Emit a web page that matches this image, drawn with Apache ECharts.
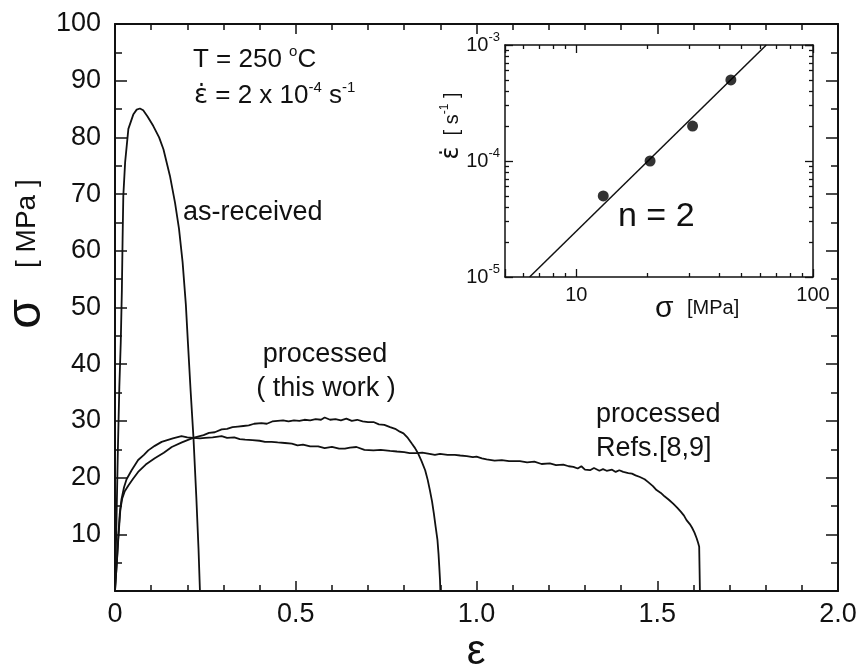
<!DOCTYPE html>
<html>
<head>
<meta charset="utf-8">
<script src="https://cdn.jsdelivr.net/npm/echarts@6/dist/echarts.min.js"></script>
<style>
  html, body { margin: 0; padding: 0; background: #fff; }
  #main { width: 862px; height: 671px; }
</style>
</head>
<body>
<div id="main"></div>
<script>
// 主图: 应变 ε - 应力 σ [MPa], 每条曲线是 [strain, stress]
var asReceivedCurve = [[0,0],[0.004,12],[0.008,25],[0.012,36],[0.016,44],[0.019,53],[0.021,62],[0.023,69.7],[0.028,75.6],
  [0.037,81.5],[0.051,84.1],[0.06,84.9],[0.069,85.1],[0.078,84.8],[0.09,83.7],[0.106,82],[0.122,80],[0.134,77.9],
  [0.152,73.2],[0.166,68.5],[0.177,63.9],[0.187,58],[0.196,50.5],[0.202,43.5],[0.209,35.5],[0.217,27.1],[0.225,16.5],
  [0.231,7.5],[0.235,0]];

var thisWorkCurve = [[0,0],[0.003,3],[0.006,6],[0.01,10],[0.015,14.5],[0.02,16.3],[0.027,17.6],[0.037,18.6],[0.05,19.8],
  [0.064,21],[0.085,22.3],[0.11,23.4],[0.135,24.4],[0.157,25.4],[0.185,26.2],[0.216,27],[0.245,27.5],[0.26,27.9],
  [0.276,28],[0.295,28.5],[0.31,28.6],[0.325,28.9],[0.34,29],[0.355,29.1],[0.37,29.2],[0.385,29.5],[0.405,29.6],
  [0.42,29.5],[0.435,29.9],[0.45,30],[0.465,30.1],[0.48,29.9],[0.495,30.1],[0.51,30],[0.524,30.2],[0.54,30.1],
  [0.555,30.3],[0.57,30.2],[0.58,30.6],[0.595,30.2],[0.61,30.3],[0.625,30.1],[0.64,30.4],[0.655,30],[0.67,30.2],
  [0.685,29.9],[0.7,29.8],[0.715,29.8],[0.73,29.4],[0.745,29.3],[0.761,28.9],[0.775,28.6],[0.788,28.1],[0.798,27.8],
  [0.81,27],[0.821,26],[0.83,25.2],[0.839,24.2],[0.848,22.9],[0.858,21.3],[0.865,19.6],[0.871,17.8],[0.877,15.8],
  [0.882,13.7],[0.887,11.3],[0.892,9],[0.895,6.5],[0.897,4.3],[0.899,2],[0.9,0]];

var refsCurve = [[0,0],[0.003,3],[0.006,6],[0.009,9.5],[0.013,13.5],[0.018,16.2],[0.025,18.3],[0.032,19.7],[0.046,21.3],
  [0.064,23.1],[0.08,24],[0.092,24.8],[0.11,25.6],[0.129,26.3],[0.16,26.9],[0.184,27.3],[0.2,27.1],[0.216,27],
  [0.235,26.9],[0.249,27],[0.27,27.1],[0.295,27.3],[0.31,27],[0.33,27.1],[0.345,26.8],[0.36,26.7],[0.38,26.6],
  [0.4,26.5],[0.415,26.3],[0.433,26.3],[0.45,26.2],[0.47,26.1],[0.489,26],[0.505,25.7],[0.52,25.8],[0.54,25.5],
  [0.562,25.5],[0.58,25.2],[0.6,25.4],[0.62,25.1],[0.636,25.1],[0.65,25.3],[0.668,25.4],[0.69,24.9],[0.715,24.8],
  [0.735,24.9],[0.761,24.7],[0.78,24.6],[0.8,24.5],[0.815,24.3],[0.834,24.3],[0.85,24.4],[0.87,24.2],[0.885,24],
  [0.899,24.2],[0.92,24],[0.94,24],[0.955,23.9],[0.973,23.8],[0.99,23.6],[1.0,23.7],[1.015,23.4],[1.028,23.2],
  [1.05,23],[1.07,23.1],[1.09,22.9],[1.12,22.9],[1.14,22.7],[1.16,22.8],[1.18,22.4],[1.203,22.5],[1.22,22.2],
  [1.24,22.3],[1.255,22],[1.268,21.9],[1.28,21.6],[1.29,22],[1.3,21.4],[1.314,21.3],[1.325,21.7],[1.34,21.2],
  [1.35,21.5],[1.36,21.2],[1.375,21.4],[1.385,21],[1.395,21.3],[1.406,21],[1.42,20.8],[1.43,20.7],[1.44,20.4],
  [1.452,20.1],[1.465,19.7],[1.475,19.2],[1.488,18.5],[1.498,17.8],[1.51,17.3],[1.52,16.7],[1.532,16.1],[1.544,15.4],
  [1.555,14.7],[1.565,14],[1.574,13.3],[1.581,12.5],[1.59,11.8],[1.596,11.2],[1.603,10.3],[1.609,9.3],[1.613,8.5],
  [1.616,7.8],[1.617,4],[1.618,0]];

// 小图: log σ - log ε̇
var insetPoints = [[13, 5e-5], [20.5, 1e-4], [31, 2e-4], [45, 5e-4]];
var insetFit = [[6.35, 1e-5], [63.5, 1e-3]];   // n = 2
var insetMinorX = [6, 7, 8, 9, 20, 30, 40, 50, 60, 70, 80, 90];
var insetMinorY = [2e-5, 3e-5, 4e-5, 5e-5, 6e-5, 7e-5, 8e-5, 9e-5, 2e-4, 3e-4, 4e-4, 5e-4, 6e-4, 7e-4, 8e-4, 9e-4];

var FONT = '"Liberation Sans", Arial, "DejaVu Sans", sans-serif';
var DOTFONT = '"DejaVu Sans", sans-serif';   // ε̇ 的点要同一字体才能放在正上方
var INK = '#111';

var myChart = echarts.init(document.getElementById('main'));

function mainX(pos, labels) {
  return {
    gridIndex: 0, type: 'value', position: pos, min: 0, max: 2, interval: 0.5,
    axisLine: { onZero: false, lineStyle: { color: INK, width: 2 } },
    axisTick: { inside: true, length: 10, lineStyle: { color: INK, width: 1.5 } },
    minorTick: { show: true, splitNumber: 5, length: 6, lineStyle: { color: INK, width: 1.5 } },
    splitLine: { show: false },
    axisLabel: {
      show: labels, margin: 10, color: INK, fontFamily: FONT, fontSize: 27,
      formatter: function (v) { return v === 0 ? '0' : v.toFixed(1) }
    }
  }
}
function mainY(pos, labels) {
  return {
    gridIndex: 0, type: 'value', position: pos, min: 0, max: 100, interval: 10,
    axisLine: { onZero: false, lineStyle: { color: INK, width: 2 } },
    axisTick: { inside: true, length: 12, lineStyle: { color: INK, width: 1.5 } },
    minorTick: { show: true, splitNumber: 2, length: 7, lineStyle: { color: INK, width: 1.5 } },
    splitLine: { show: false },
    axisLabel: {
      show: labels, margin: 14, color: INK, fontFamily: FONT, fontSize: 27,
      formatter: function (v) { return v === 0 ? '' : String(v) }
    }
  }
}
function isDecade(v) {
  var e = Math.log10(v);
  return Math.abs(e - Math.round(e)) < 1e-6;
}
function insetX(pos, major) {
  var ax = {
    gridIndex: 1, type: 'log', logBase: 10, position: pos, min: 5, max: 100,
    axisLine: { show: major, onZero: false, lineStyle: { color: INK, width: 1.5 } },
    splitLine: { show: false },
    axisLabel: { show: false }
  };
  if (major) {
    ax.axisTick = { inside: true, length: 8, lineStyle: { color: INK, width: 1.3 } };
    if (pos === 'bottom') {
      ax.axisLabel = {
        show: true, margin: 8, color: INK, fontFamily: FONT, fontSize: 20,
        formatter: function (v) { return isDecade(v) ? String(Math.round(v)) : '' }
      };
    }
  } else {
    ax.axisTick = { inside: true, length: 4, customValues: insetMinorX, lineStyle: { color: INK, width: 1.3 } };
  }
  return ax
}
function insetY(pos, major) {
  var ax = {
    gridIndex: 1, type: 'log', logBase: 10, position: pos, min: 1e-5, max: 1e-3,
    axisLine: { show: major, onZero: false, lineStyle: { color: INK, width: 1.5 } },
    splitLine: { show: false },
    axisLabel: { show: false }
  };
  if (major) {
    ax.axisTick = { inside: true, length: 8, lineStyle: { color: INK, width: 1.3 } };
    if (pos === 'left') {
      ax.axisLabel = {
        show: true, margin: 5, color: INK,
        formatter: function (v) {
          return isDecade(v) ? '{b|10}{s|' + Math.round(Math.log10(v)) + '}' : ''
        },
        rich: {
          b: { fontFamily: FONT, fontSize: 20, color: INK },
          s: { fontFamily: FONT, fontSize: 13, color: INK, padding: [0, 0, 16, 0] }
        }
      };
    }
  } else {
    ax.axisTick = { inside: true, length: 4, customValues: insetMinorY, lineStyle: { color: INK, width: 1.3 } };
  }
  return ax
}

function txt(x, y, text, size, align, extra) {
  var el = {
    type: 'text', x: x, y: y, z: 10,
    style: {
      text: text, fill: INK, fontFamily: FONT, fontSize: size,
      align: align, textAlign: align, verticalAlign: 'middle', textVerticalAlign: 'middle'
    }
  };
  if (extra) {
    if (extra.rich) el.style.rich = extra.rich;
    if (extra.rotation) el.rotation = extra.rotation;
  }
  return el
}
var supRich = function (base, sup, raise) {
  return {
    a: { fontFamily: FONT, fontSize: base, fill: INK, color: INK },
    e: { fontFamily: DOTFONT, fontSize: base, fill: INK, color: INK },
    s: { fontFamily: FONT, fontSize: sup, fill: INK, color: INK, padding: [0, 0, raise, 0] }
  }
};

var option = {
  animation: false,
  backgroundColor: '#fff',
  grid: [
    { left: 115, right: 24, top: 24, bottom: 80 },
    { left: 505, right: 49, top: 45, bottom: 394, show: true, backgroundColor: '#fff', borderWidth: 0 }
  ],
  xAxis: [
    mainX('bottom', true), mainX('top', false),
    insetX('bottom', true), insetX('bottom', false), insetX('top', true), insetX('top', false)
  ],
  yAxis: [
    mainY('left', true), mainY('right', false),
    insetY('left', true), insetY('left', false), insetY('right', true), insetY('right', false)
  ],
  series: [
    { name: 'as-received', type: 'line', xAxisIndex: 0, yAxisIndex: 0, data: asReceivedCurve,
      symbol: 'none', lineStyle: { color: INK, width: 1.8 } },
    { name: 'processed (this work)', type: 'line', xAxisIndex: 0, yAxisIndex: 0, data: thisWorkCurve,
      symbol: 'none', lineStyle: { color: INK, width: 1.8 } },
    { name: 'processed Refs.[8,9]', type: 'line', xAxisIndex: 0, yAxisIndex: 0, data: refsCurve,
      symbol: 'none', lineStyle: { color: INK, width: 1.8 } },
    { name: 'fit', type: 'line', xAxisIndex: 2, yAxisIndex: 2, data: insetFit,
      symbol: 'none', lineStyle: { color: INK, width: 1.5 }, z: 6 },
    { name: 'points', type: 'scatter', xAxisIndex: 2, yAxisIndex: 2, data: insetPoints,
      symbolSize: 11, itemStyle: { color: '#000' }, z: 7 }
  ],
  graphic: [
    txt(193, 60, '{a|T = 250 }{s|o}{a|C}', 26, 'left', { rich: supRich(26, 15, 16) }),
    txt(194, 96, '{e|ε̇}{a| = 2 x 10}{s|-4}{a| s}{s|-1}', 26, 'left', { rich: supRich(26, 15, 16) }),
    txt(183, 213, 'as-received', 27, 'left'),
    txt(325, 355, 'processed', 27, 'center'),
    txt(326, 389, '( this work )', 27, 'center'),
    txt(596, 415, 'processed', 27, 'left'),
    txt(596, 449, 'Refs.[8,9]', 27, 'left'),
    txt(618, 217, 'n = 2', 34, 'left'),
    txt(655, 309, 'σ', 30, 'left'),
    txt(687, 308, '[MPa]', 20, 'left'),
    txt(452, 126, '{g|ε̇}{a|  [ s}{s|-1}{a| ]}', 20, 'center', {
      rotation: Math.PI / 2,
      rich: {
        g: { fontFamily: DOTFONT, fontSize: 24, fill: INK, color: INK },
        a: { fontFamily: FONT, fontSize: 20, fill: INK, color: INK },
        s: { fontFamily: FONT, fontSize: 12, fill: INK, color: INK, padding: [0, 0, 14, 0] }
      }
    }),
    txt(27, 254, '{g|σ}{a|    [ MPa ]}', 28, 'center', {
      rotation: Math.PI / 2,
      rich: {
        g: { fontFamily: FONT, fontSize: 48, fill: INK, color: INK },
        a: { fontFamily: FONT, fontSize: 28, fill: INK, color: INK }
      }
    }),
    txt(476, 652, 'ε', 42, 'center')
  ]
};
option && myChart.setOption(option);
</script>
</body>
</html>
